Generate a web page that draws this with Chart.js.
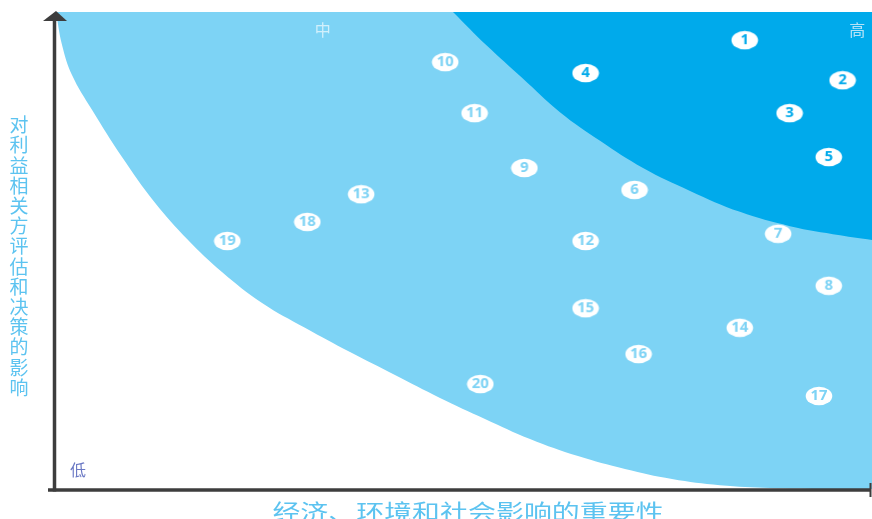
<!DOCTYPE html>
<html>
<head>
<meta charset="utf-8">
<script src="https://cdn.jsdelivr.net/npm/chart.js@4.4.1/dist/chart.umd.min.js"></script>
<style>
  html, body { margin: 0; padding: 0; background: #ffffff; }
  #wrap { width: 872px; height: 519px; position: relative; }
</style>
</head>
<body>
<div id="wrap"><canvas id="c" width="872" height="519"></canvas></div>
<script>
// ---- data ----
const topicLabels = ['1','2','3','4','5','6','7','8','9','10','11','12','13','14','15','16','17','18','19','20'];
const importanceX = [84.4, 96.4, 89.9, 64.9, 94.7, 70.9, 88.5, 94.7, 57.4, 47.7, 51.3, 64.9, 37.4, 83.8, 64.9, 71.4, 93.5, 30.8, 21.0, 52.0];
const influenceY  = [94.1, 85.7, 78.8, 87.2, 69.6, 62.7, 53.5, 42.6, 67.3, 89.5, 78.8, 52.0, 61.8, 33.8, 37.9, 28.3, 19.5, 56.0, 52.0, 22.0];
const topicTier   = ['high','high','high','high','high','mid','mid','mid','mid','mid','mid','mid','mid','mid','mid','mid','mid','mid','mid','mid'];

// boundary of the "中" zone (light blue)
const midBoundaryX = [0, 0.74, 1.96, 4.41, 8.09, 12.13, 16.18, 20.34, 25.25, 30.51, 36.03, 41.54, 47.06, 52.57, 58.09, 63.97, 69.73, 75.49, 81.37, 87.5, 93.63, 100];
const midBoundaryY = [100, 93.1, 86.8, 79.5, 69.6, 60.0, 52.2, 45.5, 39.0, 33.8, 28.7, 23.9, 19.1, 14.7, 10.5, 6.9, 4.2, 2.1, 0.8, 0.2, 0, 0];
// boundary of the "高" zone (dark blue)
const highBoundaryX = [48.65, 52.82, 57.11, 61.76, 66.67, 71.94, 77.70, 83.82, 89.95, 96.08, 100];
const highBoundaryY = [100, 92.9, 86.2, 79.0, 73.0, 67.3, 62.5, 58.1, 55.1, 53.2, 52.2];

const levelLabels = ['低', '中', '高'];
const xTitle = '经济、环境和社会影响的重要性';
const yTitle = '对利益相关方评估和决策的影响';

// ---- styles ----
const LIGHT = '#7dd3f5';
const DARK = '#00aaeb';

function makeBadge(text, color) {
  const w = 28, h = 20;
  const cv = document.createElement('canvas');
  cv.width = w; cv.height = h;
  const g = cv.getContext('2d');
  g.fillStyle = '#ffffff';
  g.beginPath();
  g.ellipse(w / 2, h / 2, 13.3, 9.3, 0, 0, Math.PI * 2);
  g.fill();
  g.fillStyle = color;
  g.font = 'bold 13.5px "Open Sans", "DejaVu Sans", sans-serif';
  g.textAlign = 'center';
  g.textBaseline = 'middle';
  g.save();
  g.translate(w / 2, h / 2 + 0.5);
  g.scale(1.1, 1);
  g.fillText(text, 0, 0);
  g.restore();
  return cv;
}
const badges = topicLabels.map((t, i) => makeBadge(t, topicTier[i] === 'high' ? DARK : LIGHT));

const pts = importanceX.map((x, i) => ({ x: x, y: influenceY[i] }));
const midPts = midBoundaryX.map((x, i) => ({ x: x, y: midBoundaryY[i] }));
const highPts = highBoundaryX.map((x, i) => ({ x: x, y: highBoundaryY[i] }));

const decorPlugin = {
  id: 'decor',
  afterDatasetsDraw(chart) {
    const ctx = chart.ctx;
    const a = chart.chartArea;
    const xs = chart.scales.x, ys = chart.scales.y;
    ctx.save();
    // axes
    ctx.strokeStyle = '#3d3d3d';
    ctx.fillStyle = '#3d3d3d';
    ctx.lineWidth = 3.5;
    ctx.beginPath();
    ctx.moveTo(a.left - 1.5, a.top + 8);
    ctx.lineTo(a.left - 1.5, a.bottom + 2.5);
    ctx.stroke();
    ctx.beginPath();
    ctx.moveTo(a.left - 8, a.bottom + 1);
    ctx.lineTo(a.right - 1, a.bottom + 1);
    ctx.stroke();
    ctx.lineWidth = 2;
    ctx.beginPath();
    ctx.moveTo(a.right - 1.5, a.bottom - 6);
    ctx.lineTo(a.right - 1.5, a.bottom + 8);
    ctx.stroke();
    // arrow head
    ctx.beginPath();
    ctx.moveTo(a.left, a.top - 1);
    ctx.lineTo(a.left - 13, a.top + 9);
    ctx.lineTo(a.left + 11, a.top + 9);
    ctx.closePath();
    ctx.fill();

    // level labels
    ctx.font = '16px "Noto Sans CJK SC", sans-serif';
    ctx.textAlign = 'center';
    ctx.textBaseline = 'middle';
    ctx.fillStyle = '#6a78c4';
    ctx.fillText(levelLabels[0], xs.getPixelForValue(2.7), ys.getPixelForValue(4.0));
    ctx.fillStyle = 'rgba(255,255,255,0.65)';
    ctx.fillText(levelLabels[1], xs.getPixelForValue(32.7), ys.getPixelForValue(96.2));
    ctx.fillStyle = 'rgba(225,240,250,0.8)';
    ctx.fillText(levelLabels[2], xs.getPixelForValue(98.2), ys.getPixelForValue(96.2));

    // axis titles
    ctx.fillStyle = '#5cc3f0';
    ctx.font = '22px "Noto Sans CJK SC", sans-serif';
    ctx.save();
    ctx.translate((a.left + a.right) / 2 + 4, a.bottom + 23);
    ctx.scale(1.27, 1);
    ctx.fillText(xTitle, 0, 0);
    ctx.restore();

    ctx.font = '19px "Noto Sans CJK SC", sans-serif';
    const chars = Array.from(yTitle);
    const step = 20.2;
    const y0 = 125;
    chars.forEach((ch, i) => {
      ctx.fillText(ch, 19, y0 + i * step);
    });
    ctx.restore();
  }
};

new Chart(document.getElementById('c'), {
  type: 'scatter',
  data: {
    datasets: [
      {
        label: 'topics',
        data: pts,
        order: 0,
        pointStyle: (c) => badges[c.dataIndex],
        pointRadius: 10,
        showLine: false
      },
      {
        label: 'high',
        data: highPts,
        order: 1,
        showLine: true,
        borderWidth: 0,
        borderColor: 'rgba(0,0,0,0)',
        backgroundColor: DARK,
        pointRadius: 0,
        tension: 0.4,
        fill: 'end'
      },
      {
        label: 'mid',
        data: midPts,
        order: 2,
        showLine: true,
        borderWidth: 0,
        borderColor: 'rgba(0,0,0,0)',
        backgroundColor: LIGHT,
        pointRadius: 0,
        tension: 0.4,
        fill: 'end'
      }
    ]
  },
  options: {
    responsive: false,
    animation: false,
    layout: { autoPadding: false, padding: { left: 56, right: 0, top: 12, bottom: 30 } },
    scales: {
      x: { type: 'linear', min: 0, max: 100, display: false },
      y: { type: 'linear', min: 0, max: 100, display: false }
    },
    plugins: {
      legend: { display: false },
      tooltip: { enabled: false }
    }
  },
  plugins: [decorPlugin]
});
</script>
</body>
</html>
